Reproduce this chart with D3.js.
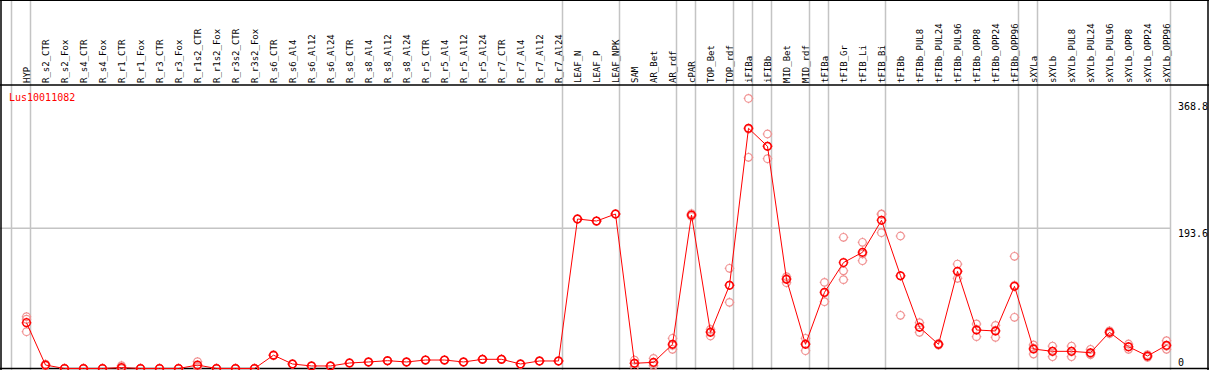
<!DOCTYPE html>
<html lang="en">
<head>
    <meta charset="UTF-8">
    <title>Lus10011082 expression</title>
    <script src="https://d3js.org/d3.v7.min.js"></script>
    <style>
        body{
            margin: 0;
            background: white;
        }
        svg{
            display: block;
        }
        .lbl{
            font-family: "DejaVu Sans Mono", monospace;
            font-size: 9px;
        }
        .yLbl{
            font-family: "DejaVu Sans Mono", monospace;
            font-size: 10px;
        }
    </style>
</head>
<body>
<svg width="1209" height="370"></svg>
<script>

    // sample names (x axis)
    let samples = ["HYP","R_s2_CTR","R_s2_Fox","R_s4_CTR","R_s4_Fox","R_r1_CTR","R_r1_Fox","R_r3_CTR","R_r3_Fox",
        "R_r1s2_CTR","R_r1s2_Fox","R_r3s2_CTR","R_r3s2_Fox","R_s6_CTR","R_s6_Al4","R_s6_Al12","R_s6_Al24",
        "R_s8_CTR","R_s8_Al4","R_s8_Al12","R_s8_Al24","R_r5_CTR","R_r5_Al4","R_r5_Al12","R_r5_Al24",
        "R_r7_CTR","R_r7_Al4","R_r7_Al12","R_r7_Al24","LEAF_N","LEAF_P","LEAF_NPK","SAM","AR_Bet","AR_rdf",
        "cPAR","TOP_Bet","TOP_rdf","iFIBa","iFIBb","MID_Bet","MID_rdf","tFIBa","tFIB_Gr","tFIB_Li","tFIB_Bi",
        "tFIBb","tFIBb_PUL8","tFIBb_PUL24","tFIBb_PUL96","tFIBb_OPP8","tFIBb_OPP24","tFIBb_OPP96",
        "sXYLa","sXYLb","sXYLb_PUL8","sXYLb_PUL24","sXYLb_PUL96","sXYLb_OPP8","sXYLb_OPP24","sXYLb_OPP96"];

    // mean expression per sample
    let means = [63.3, 4.8, 0, 0, 0, 1.3, 0, 0, 0,
        4.8, 0, 0, 0, 18.4, 6.2, 3.5, 3.5,
        7.6, 9, 10.8, 9, 11.7, 11.7, 9, 12.7,
        12.7, 6.2, 10.4, 10.4, 206.5, 203.7, 213.4, 7.2, 8.5, 33.4,
        212, 50, 114.9, 331.8, 306.9, 123.2, 33.4, 105.2, 146.3, 160.5, 204.7,
        128.2, 56.9, 33.4, 134.2, 53.2, 51.8, 113.5,
        26.9, 23.7, 23.7, 21.8, 50, 30.1, 17.3, 32];

    // replicate values per sample
    let replicates = [[71.5, 68, 50.8], [6, 4.5, 4], [0, 0, 0], [0, 0, 0], [0, 0, 0], [4, 0, 0], [0, 0, 0], [0, 0, 0], [0, 0, 0],
        [9.4, 3, 2], [0, 0, 0], [0, 0, 0], [0, 0, 0], [19, 18, 18], [6.2, 6.2, 6.2], [3.5, 3.5, 3.5], [3.5, 3.5, 3.5],
        [7.6, 7.6, 7.6], [9, 9, 9], [10.8, 10.8, 10.8], [9, 9, 9], [11.7, 11.7, 11.7], [11.7, 11.7, 11.7], [9, 9, 9], [12.7, 12.7, 12.7],
        [12.7, 12.7, 12.7], [6.2, 6.2, 6.2], [10.4, 10.4, 10.4], [10.4, 10.4, 10.4], [206.5, 206.5, 206.5], [203.7, 203.7, 203.7], [213.4, 213.4, 213.4],
        [11.7, 7, 2.5], [14, 7.5, 4], [41.7, 32, 26.5],
        [214, 212, 210], [54, 51, 44.9], [138.4, 115, 91.4], [373, 330.7, 291.7], [323.9, 307, 289.8], [126.8, 124.3, 118.5], [41.7, 34, 24.6],
        [119, 104.3, 92.3], [181.2, 135, 122.7], [174.3, 158.3, 148.9], [213.5, 213, 187.6],
        [183, 128, 73.5], [63.3, 57.4, 50], [34.5, 33.4, 32.3], [144.3, 133.7, 124.6], [61.5, 54, 44], [59.6, 52.8, 43], [155, 114.8, 70.7],
        [32.5, 28.2, 20], [31, 23.8, 16.3], [31, 23.8, 16.3], [26.5, 19, 20], [52, 50, 48], [33.8, 30, 26.5], [19, 17.3, 15.5], [38.4, 31, 26.5]];

    // tissue group boundaries: index of last sample in each group
    let groupEnds = [0, 28, 31, 34, 35, 37, 38, 39, 41, 42, 45, 52, 53, 60];

    let geneName = "Lus10011082";
    let yTicks = [0, 193.6, 368.8];

    let W = 1209, H = 370;
    let headerBottom = 85, plotBottom = 368.5;
    let svg = d3.select('svg');

    let xScale = d3.scaleBand()
        .domain(samples)
        .range([11.5, 11.5 + 19 * samples.length])
        .paddingInner(0).paddingOuter(0);
    let px = function (name){ return xScale(name) + 15; };

    let yScale = d3.scaleLinear()
        .domain([0, 368.8])
        .range([plotBottom, 101.5]);

    // grey separators
    let sepX = [xScale(samples[0])].concat(groupEnds.map(function (i){ return xScale(samples[i]) + xScale.bandwidth(); }));
    svg.append('g').selectAll('line')
        .data(sepX).enter().append('line')
        .attr('x1', function (d){ return d; }).attr('x2', function (d){ return d; })
        .attr('y1', 0).attr('y2', H)
        .attr('stroke', '#c4c4c4').attr('stroke-width', 1.5);

    // mid gridline
    svg.append('line')
        .attr('x1', 0).attr('x2', xScale.range()[1])
        .attr('y1', yScale(yTicks[1])).attr('y2', yScale(yTicks[1]))
        .attr('stroke', '#c4c4c4').attr('stroke-width', 1.5);

    // frame
    svg.append('line').attr('x1', 0).attr('x2', W).attr('y1', 0.5).attr('y2', 0.5).attr('stroke', 'black');
    svg.append('line').attr('x1', 0).attr('x2', W).attr('y1', headerBottom).attr('y2', headerBottom).attr('stroke', 'black').attr('stroke-width', 1.7);
    svg.append('line').attr('x1', 0).attr('x2', W).attr('y1', plotBottom).attr('y2', plotBottom).attr('stroke', 'black').attr('stroke-width', 1.7);
    svg.append('line').attr('x1', 1).attr('x2', 1).attr('y1', 0).attr('y2', H).attr('stroke', 'black').attr('stroke-width', 1.5);
    svg.append('line').attr('x1', 1208).attr('x2', 1208).attr('y1', 0).attr('y2', H).attr('stroke', 'black').attr('stroke-width', 1.5);

    // sample labels (rotated)
    svg.append('g').selectAll('text')
        .data(samples).enter().append('text')
        .attr('class', 'lbl')
        .attr('transform', function (d){ return 'translate(' + (px(d) + 3.5) + ',' + (headerBottom - 2) + ') rotate(-90)'; })
        .text(function (d){ return d; });

    // gene title
    svg.append('text')
        .attr('class', 'yLbl')
        .attr('x', 9).attr('y', 101)
        .attr('fill', 'red')
        .text(geneName);

    // y labels on the right
    svg.append('g').selectAll('text')
        .data(yTicks).enter().append('text')
        .attr('class', 'yLbl')
        .attr('x', 1178)
        .attr('y', function (d){ return Math.min(yScale(d) + 8.5, 366); })
        .text(function (d){ return d === 0 ? '0' : d.toFixed(1); });

    // marker: circle with small cardinal ticks
    function marker(cx, cy){
        let r = 3.8, t = 1;
        return 'M' + (cx - r) + ',' + cy + 'a' + r + ',' + r + ' 0 1,0 ' + (2 * r) + ',0a' + r + ',' + r + ' 0 1,0 ' + (-2 * r) + ',0'
            + 'M' + cx + ',' + (cy - r - t) + 'v' + t
            + 'M' + cx + ',' + (cy + r) + 'v' + t
            + 'M' + (cx - r - t) + ',' + cy + 'h' + t
            + 'M' + (cx + r) + ',' + cy + 'h' + t;
    }

    // replicates
    let repData = [];
    samples.forEach(function (s, i){
        replicates[i].forEach(function (v){ repData.push({s: s, v: v}); });
    });
    svg.append('g').selectAll('path')
        .data(repData).enter().append('path')
        .attr('d', function (d){ return marker(px(d.s), yScale(d.v)); })
        .attr('fill', 'none')
        .attr('stroke', '#f09090')
        .attr('stroke-width', 1.2);

    // mean line
    let line = d3.line()
        .x(function (d, i){ return px(samples[i]); })
        .y(function (d){ return yScale(d); });
    svg.append('path')
        .datum(means)
        .attr('d', line)
        .attr('fill', 'none')
        .attr('stroke', 'red')
        .attr('stroke-width', 1);

    // mean markers
    svg.append('g').selectAll('path')
        .data(means).enter().append('path')
        .attr('d', function (d, i){ return marker(px(samples[i]), yScale(d)); })
        .attr('fill', 'none')
        .attr('stroke', 'red')
        .attr('stroke-width', 1.5);

</script>
</body>
</html>
